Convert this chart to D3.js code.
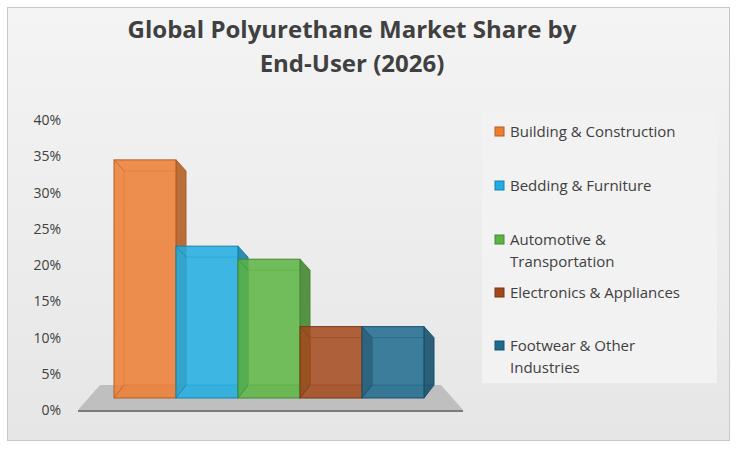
<!DOCTYPE html>
<html><head><meta charset="utf-8">
<script src="https://cdn.jsdelivr.net/npm/d3@7"></script>
<style>body{margin:0;background:#fff}</style></head>
<body><svg id="c" width="737" height="451"></svg>
<script>
const categories=["Building & Construction","Bedding & Furniture","Automotive & Transportation","Electronics & Appliances","Footwear & Other Industries"];
const legendLines=[["Building & Construction"],["Bedding & Furniture"],["Automotive &","Transportation"],["Electronics & Appliances"],["Footwear & Other","Industries"]];
const values=[34.5,22.6,20.8,11.5,11.5];
const colors=["#ed7d31","#1fade3","#5cb542","#a3481c","#1f6a8e"];
const ticks=[0,5,10,15,20,25,30,35,40];
const svg=d3.select("#c");
const defs=svg.append("defs");
const g=defs.append("linearGradient").attr("id","bg").attr("x1",0).attr("y1",0).attr("x2",0).attr("y2",1);
g.append("stop").attr("offset","0").attr("stop-color","#f4f4f4");
g.append("stop").attr("offset","1").attr("stop-color","#e6e6e6");
svg.append("rect").attr("x",7.5).attr("y",7.5).attr("width",722).attr("height",433).attr("fill","url(#bg)").attr("stroke","#c8c8c8");
const tf="Open Sans, sans-serif";
svg.append("text").attr("x",352).attr("y",38).attr("text-anchor","middle").attr("font-family",tf).attr("font-weight","bold").attr("font-size",24).attr("fill","#404040").text("Global Polyurethane Market Share by");
svg.append("text").attr("x",352).attr("y",72).attr("text-anchor","middle").attr("font-family",tf).attr("font-weight","bold").attr("font-size",24).attr("fill","#404040").text("End-User (2026)");
const y=d3.scaleLinear().domain([0,40]).range([410,120]);
const x=d3.scaleBand().domain(categories).range([114,424]).padding(0);
const dx=10,dy=11;
svg.append("g").selectAll("text").data(ticks).join("text").attr("x",61).attr("y",d=>y(d)+5).attr("text-anchor","end")
 .attr("font-family",tf).attr("font-size",14).attr("fill","#404040").text(d=>d+"%");
svg.append("path").attr("d",`M78,410 L463,410 L441,385 L100,385 Z`).attr("fill","#bfbfbf");
svg.append("line").attr("x1",78).attr("x2",463).attr("y1",411).attr("y2",411).attr("stroke","#595959").attr("stroke-width",1.5);
const bottom=398;
categories.forEach((c,i)=>{
 const x0=x(c),w=x.bandwidth(),col=colors[i];
 const top=y(values[i]);
 const dark=d3.color(col).darker(0.8);
 const bg=svg.append("g");
 // inner back edges
 bg.append("path").attr("d",`M${x0+dx},${top+dy} L${x0+dx},${bottom-dy+ -2} L${x0+w+dx},${bottom-dy-2}`).attr("fill","none").attr("stroke",dark).attr("stroke-opacity",0.7);
 bg.append("line").attr("x1",x0+dx).attr("y1",top+dy).attr("x2",x0+w).attr("y2",top+dy).attr("stroke",dark).attr("stroke-opacity",0.7);
 // side face
 bg.append("path").attr("d",`M${x0+w},${top} L${x0+w+dx},${top+dy} L${x0+w+dx},${bottom-dy-2} L${x0+w},${bottom} Z`).attr("fill",dark).attr("fill-opacity",0.9).attr("stroke",dark);
 bg.append("rect").attr("x",x0).attr("y",top).attr("width",w).attr("height",bottom-top).attr("fill",col).attr("fill-opacity",0.85).attr("stroke",dark).attr("stroke-width",1);
 bg.append("line").attr("x1",x0).attr("y1",top).attr("x2",x0+dx).attr("y2",top+dy).attr("stroke",dark).attr("stroke-opacity",0.7);
 bg.append("line").attr("x1",x0).attr("y1",bottom).attr("x2",x0+dx).attr("y2",bottom-dy-2).attr("stroke",dark).attr("stroke-opacity",0.7);
});
svg.append("rect").attr("x",482).attr("y",112).attr("width",235).attr("height",271).attr("fill","#f2f2f2");
const ly=[132,186,240,293,346];
legendLines.forEach((ls,i)=>{
 svg.append("rect").attr("x",495).attr("y",ly[i]-5).attr("width",9).attr("height",9).attr("fill",colors[i]).attr("stroke",d3.color(colors[i]).darker(0.8));
 ls.forEach((t,j)=>svg.append("text").attr("x",510).attr("y",ly[i]+5+j*22).attr("font-family",tf).attr("font-size",15).attr("fill","#404040").text(t));
});
</script></body></html>
